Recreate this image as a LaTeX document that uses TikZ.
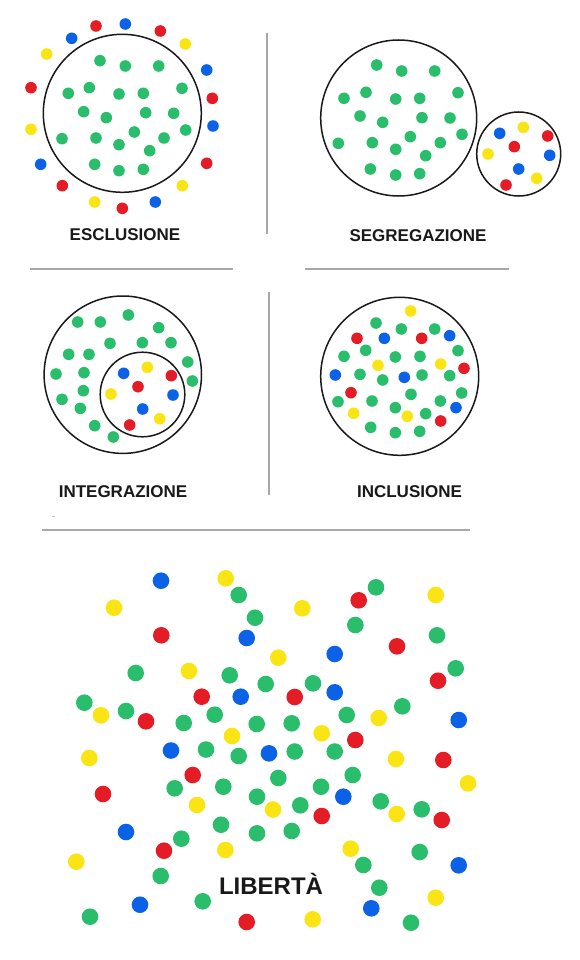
\documentclass[tikz,border=0pt]{standalone}
\usepackage{fontspec}
\setmainfont{Liberation Sans}
\definecolor{dg}{RGB}{42,190,108}
\definecolor{dr}{RGB}{228,28,38}
\definecolor{db}{RGB}{12,98,230}
\definecolor{dy}{RGB}{250,228,20}
\definecolor{sep}{RGB}{168,168,168}
\tikzset{
  ring/.style={draw=black!90, line width=1.5pt},
  sepline/.style={draw=sep, line width=2pt},
  lbl/.style={font=\bfseries\fontsize{17}{20}\selectfont, inner sep=0pt, text=black!90},
}
\newcommand{\dotset}[3]{\foreach \px/\py in {#3} {\fill[#1] (\px,\py) circle (#2);}}
\begin{document}
\begin{tikzpicture}[x=1pt,y=-1pt]
\useasboundingbox (0,0) rectangle (579,960);
\fill[white] (0,0) rectangle (579,960);

% separators
\coordinate (v1a) at (267,33); \coordinate (v1b) at (267,234);
\coordinate (h1a) at (30,269); \coordinate (h1b) at (233,269);
\coordinate (h2a) at (305,269); \coordinate (h2b) at (509,269);
\coordinate (v2a) at (269,292); \coordinate (v2b) at (269,495);
\coordinate (h3a) at (42,530); \coordinate (h3b) at (470,530);
\draw[sepline] (v1a) -- (v1b);
\draw[sepline] (h1a) -- (h1b);
\draw[sepline] (h2a) -- (h2b);
\draw[sepline] (v2a) -- (v2b);
\draw[sepline] (h3a) -- (h3b);
\coordinate (m1) at (52,516); \coordinate (m2) at (55,516);
\draw[sep!70, line width=1pt] (m1) -- (m2);

% ===== ESCLUSIONE =====
\draw[ring] (122.3,113.3) circle (79);
\dotset{dg}{5.8}{100/60.7,125.3/66,158.7/66,68.3/93.3,89.3/87.7,119/94,143.3/93.3,182/88.3,83.7/111.7,106.3/117.7,145.7/112.7,173.7/113.3,185.7/130,62/138.7,96/138,134.3/132,164/138,119/144.7,149.7/150.7,94.7/164.3,119/170.7,143.3/169.3}
\dotset{dr}{5.8}{96/26,160.3/31,31/87.7,212.3/98.3,206.7/163.3,62.3/185.7,122.3/208.3}
\dotset{db}{5.8}{125.3/24,71.7/38.3,206.7/70,213/126,40.7/164.3,155.3/202}
\dotset{dy}{5.8}{185.3/44,46.7/54,31/129.3,182.3/185.7,94.7/202}
\node[lbl] (t1) at (125,234.5) {ESCLUSIONE};

% ===== SEGREGAZIONE =====
\draw[ring] (398.7,118) circle (78);
\draw[ring] (518.7,154) circle (42);
\dotset{dg}{5.8}{376.7/65,401.7/71,434.7/71,344/98.3,366/92.3,395.7/99,419.7/98.3,458/92.7,360/116,382.7/122.3,422/117.7,450/118,462/134.3,338.3/143.3,372.3/142.7,410.3/136.7,440.3/142.7,395.7/149.3,425.7/155.7,370.3/169,395.7/175,419.7/173.7}
\dotset{db}{5.8}{499.7/133.3,549.7/155.3,518.7/169}
\dotset{dy}{5.8}{523.3/127.3,488/154,536.7/178.3}
\dotset{dr}{5.8}{547.7/136,514.3/146.7,506/185}
\node[lbl] (t2) at (418,236) {SEGREGAZIONE};

% ===== INTEGRAZIONE =====
\draw[ring] (122.8,374.7) circle (78.7);
\draw[ring] (142.5,394.5) circle (42.3);
\dotset{dg}{5.8}{77.7/322,100.3/322,128.3/315,158.7/327.7,110/343.3,142.3/342.7,171/342.7,68.7/354.3,89/354.3,187.7/362,56/374,84/372.7,192.3/381,83.3/390.7,62/399.3,80.3/408.3,94.7/425.7,113.3/437}
\dotset{db}{5.8}{123.7/373.3,173/395,142.7/409}
\dotset{dy}{5.8}{147.3/367.3,111/394,159.7/418.7}
\dotset{dr}{5.8}{171.3/375.7,138/386.7,129.7/425}
\node[lbl] (t3) at (123,491.7) {INTEGRAZIONE};

% ===== INCLUSIONE =====
\draw[ring] (399.7,376.3) circle (79);
\dotset{dg}{5.8}{376/323,401.3/329,434.7/329,365.7/350.3,458/350.7,344/356.3,395.3/357,420/356.3,360/374.3,382.7/380,422/375,449.7/375.7,411/394.3,461.7/393,338/401.7,372/401,440.3/401,395.3/407.7,425.7/413.7,370.7/427.3,395.3/432.7,419.7/431.3}
\dotset{dy}{5.8}{410.7/311,378/365.3,440.7/364,353.7/413.3,407.3/416.3}
\dotset{db}{5.8}{449.7/335.7,384.3/338.3,335.3/375,404.3/377.3,456/407.7}
\dotset{dr}{5.8}{357/338.3,421.7/338.3,464/368.3,351/392.7,440.7/421}
\node[lbl] (t4) at (409.5,491.7) {INCLUSIONE};

% ===== LIBERTA =====
\dotset{dg}{8.3}{238.7/595,255/617.7,135.7/673,229.7/675.3,84.3/702.7,126/711,183.7/723,214.7/714.7,256.7/724,206/749.5,238.7/756,376/587.3,355.3/625,437/635.3,455.7/668.3,265.7/684,313/683.3,402.3/706.3,346.7/715,291.7/723.3,294.7/751.5,334.7/751.5,174.7/788.3,223.3/786.7,257/796.7,221/824.7,257/833.3,181.3/838.7,160.7/876,202.7/901.3,90/916.7,278.3/778,352.7/775,321/786.7,300.3/805.3,380.7/801.3,421.7/809.3,291.7/831,419.7/852,363.3/865,379.3/887.7,411/922.7}
\dotset{db}{8.3}{161/580.7,246.7/638,240.7/696.7,171/750.5,334.7/654,334.7/692.3,458.7/720,269/753.3,126/832,140/904.7,343.3/796.7,458.7/865.3,371.3/908.3}
\dotset{dy}{8.3}{225.7/578.3,114/607.7,189/671,101/715.3,232/736,89.3/758,302.3/608.3,435.7/595,278.3/657.7,378.7/718,321.7/733.3,396/759,197/805,225.3/850,76.3/861.7,468/783.3,273/809.5,396.7/814,350.7/848.7,435.7/897.7,312.7/919.3}
\dotset{dr}{8.3}{161.3/635.3,201.7/696.7,146/721.3,358.7/600.3,397/646.3,438/680.7,294.7/697,355.3/740,443.3/760,192.7/775,103/794,164/850.7,246.7/922,321.7/816,441.7/820}
\node[font=\bfseries\fontsize{24}{28}\selectfont, inner sep=0pt, text=black!90, anchor=base] (t5) at (271,894) {LIBERTÀ};
\end{tikzpicture}
\end{document}
